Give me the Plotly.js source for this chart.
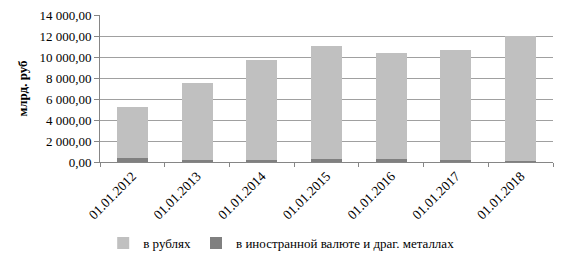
<!DOCTYPE html>
<html><head><meta charset="utf-8">
<script src="https://cdn.plot.ly/plotly-3.0.1.min.js"></script>
<style>html,body{margin:0;padding:0;background:#fff}#c{width:568px;height:262px}</style>
</head><body><div id="c"></div>
<script>
const categories = ["01.01.2012","01.01.2013","01.01.2014","01.01.2015","01.01.2016","01.01.2017","01.01.2018"];
const rubles = [4860, 7300, 9520, 10760, 10130, 10480, 11930];
const foreign = [380, 230, 230, 290, 290, 170, 70];
const seriesNames = ["в рублях", "в иностранной валюте и драг. металлах"];
const yTicks = [0, 2000, 4000, 6000, 8000, 10000, 12000, 14000];

const traces = [
  {type:"bar", x:categories, y:foreign, name:seriesNames[1], marker:{color:"#808080"}, legendrank:2},
  {type:"bar", x:categories, y:rubles, name:seriesNames[0], marker:{color:"#c0c0c0"}, legendrank:1}
];
const layout = {
  width:568, height:262,
  margin:{l:100, r:15, t:15, b:100, autoexpand:false},
  barmode:"stack", bargap:0.52,
  separators:", ",
  font:{family:"Liberation Serif", size:13, color:"#000"},
  paper_bgcolor:"#fff", plot_bgcolor:"#fff",
  xaxis:{automargin:false, tickangle:-45, ticks:"outside", tickson:"boundaries", ticklen:4, tickcolor:"#868686",
         showline:true, linecolor:"#868686", linewidth:1, tickfont:{size:13.5}},
  yaxis:{automargin:false, range:[0,14000], tickvals:yTicks, tickformat:",.2f", ticks:"outside", ticklen:5, tickcolor:"#868686",
         showline:true, linecolor:"#868686", gridcolor:"#a0a0a0", zeroline:false,
         title:{text:"<b>млрд. руб</b>", font:{size:13}, standoff:8}, tickfont:{size:13}},
  showlegend:true,
  legend:{orientation:"h", x:0.40, xanchor:"center", yref:"container", y:0.0725, yanchor:"middle", traceorder:"normal", itemwidth:30, font:{size:13}}
};
Plotly.newPlot("c", traces, layout, {displayModeBar:false, staticPlot:true});
</script></body></html>
